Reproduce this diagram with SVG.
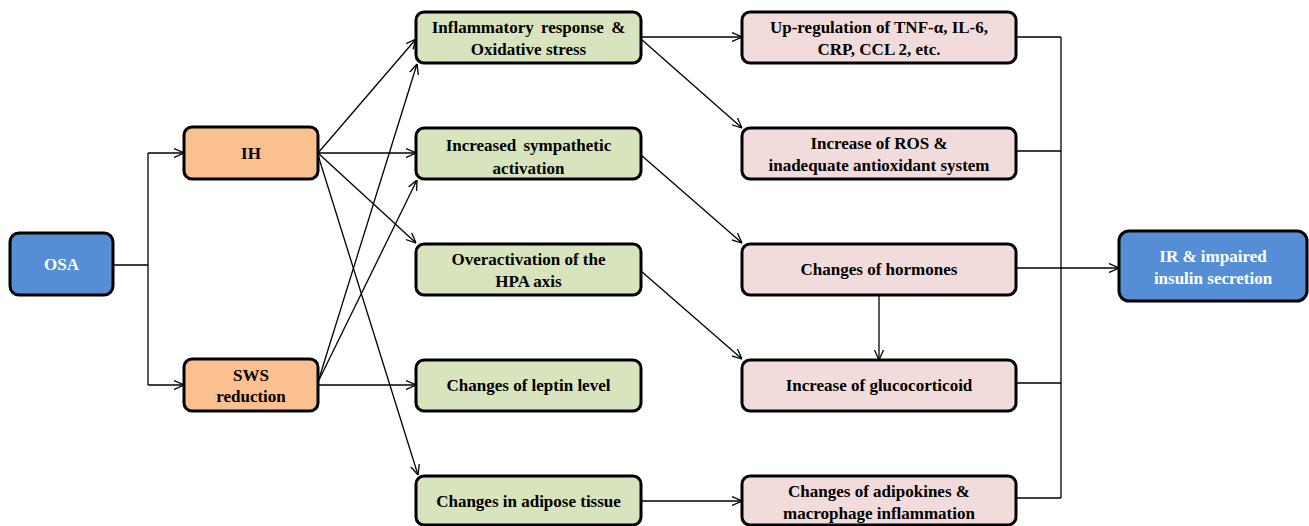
<svg xmlns="http://www.w3.org/2000/svg" width="1309" height="526" viewBox="0 0 1309 526">
<style>
.box{stroke:#000;stroke-width:3}
.blue{fill:#558ED5}.orange{fill:#FAC090}.green{fill:#D7E4BD}.pink{fill:#F2DCDB}
text{font-family:"Liberation Serif","Times New Roman",serif;font-weight:bold;font-size:17px;text-anchor:middle;fill:#000}
text.w{fill:#fff}
.c{fill:none;stroke:#000;stroke-width:1.3}
.a{marker-end:url(#arr)}
</style>
<defs>
<marker id="arr" viewBox="0 0 10 10" refX="10" refY="5" markerWidth="10" markerHeight="10" markerUnits="userSpaceOnUse" orient="auto">
<path d="M0,0.5 L10,5 L0,9.5" fill="none" stroke="#000" stroke-width="1.3"/>
</marker>
</defs>
<rect width="1309" height="526" fill="#fff"/>
<g id="connectors">
<path class="c" d="M113,265 H148 M148,153 V385"/>
<path class="c a" d="M148,153 H184"/>
<path class="c a" d="M148,385 H184"/>
<path class="c a" d="M318,153 L416,39"/>
<path class="c a" d="M318,153 H416"/>
<path class="c a" d="M318,153 L416,243"/>
<path class="c a" d="M318,155 L418,475"/>
<path class="c a" d="M318,382 L417,64"/>
<path class="c a" d="M318,382 L417,180"/>
<path class="c a" d="M318,385 H416"/>
<path class="c a" d="M641,37 H742"/>
<path class="c a" d="M641,39 L742,128"/>
<path class="c a" d="M641,155 L742,243"/>
<path class="c a" d="M641,271 L742,359"/>
<path class="c a" d="M641,501 H742"/>
<path class="c a" d="M879,295 V360"/>
<path class="c" d="M1016,37 H1061 M1016,151 H1061 M1016,383 H1061 M1016,498 H1061 M1061,37 V498"/>
<path class="c a" d="M1016,268 H1119"/>
</g>
<g id="osa"><rect class="box blue" x="10" y="233" width="103" height="62" rx="9"/><text class="w" x="61.5" y="270">OSA</text></g>
<g id="ih"><rect class="box orange" x="184" y="127" width="134" height="52" rx="8"/><text x="251" y="159">IH</text></g>
<g id="sws"><rect class="box orange" x="184" y="359" width="134" height="52" rx="8"/><text x="251" y="381">SWS</text><text x="251" y="402">reduction</text></g>
<g id="inflammatory"><rect class="box green" x="416" y="12" width="225" height="51" rx="8"/><text x="528.5" y="33" word-spacing="3">Inflammatory response &amp;</text><text x="528.5" y="55">Oxidative stress</text></g>
<g id="sympathetic"><rect class="box green" x="416" y="128" width="225" height="51" rx="8"/><text x="528.5" y="151" word-spacing="3">Increased sympathetic</text><text x="528.5" y="174">activation</text></g>
<g id="hpa"><rect class="box green" x="416" y="244" width="225" height="51" rx="8"/><text x="528.5" y="265">Overactivation of the</text><text x="528.5" y="287">HPA axis</text></g>
<g id="leptin"><rect class="box green" x="416" y="360" width="225" height="51" rx="8"/><text x="528.5" y="391">Changes of leptin level</text></g>
<g id="adipose"><rect class="box green" x="416" y="476" width="225" height="49" rx="8"/><text x="528.5" y="507">Changes in adipose tissue</text></g>
<g id="upreg"><rect class="box pink" x="742" y="12" width="274" height="51" rx="8"/><text x="879" y="33">Up-regulation of TNF-α, IL-6,</text><text x="879" y="55">CRP, CCL 2, etc.</text></g>
<g id="ros"><rect class="box pink" x="742" y="128" width="274" height="51" rx="8"/><text x="879" y="149">Increase of ROS &amp;</text><text x="879" y="171">inadequate antioxidant system</text></g>
<g id="hormones"><rect class="box pink" x="742" y="244" width="274" height="51" rx="8"/><text x="879" y="275">Changes of hormones</text></g>
<g id="glucocorticoid"><rect class="box pink" x="742" y="360" width="274" height="51" rx="8"/><text x="879" y="391">Increase of glucocorticoid</text></g>
<g id="adipokines"><rect class="box pink" x="742" y="476" width="274" height="49" rx="8"/><text x="879" y="497">Changes of adipokines &amp;</text><text x="879" y="519">macrophage inflammation</text></g>
<g id="ir"><rect class="box blue" x="1119" y="231" width="188" height="70" rx="10"/><text class="w" x="1213" y="262">IR &amp; impaired</text><text class="w" x="1213" y="284">insulin secretion</text></g>
</svg>
